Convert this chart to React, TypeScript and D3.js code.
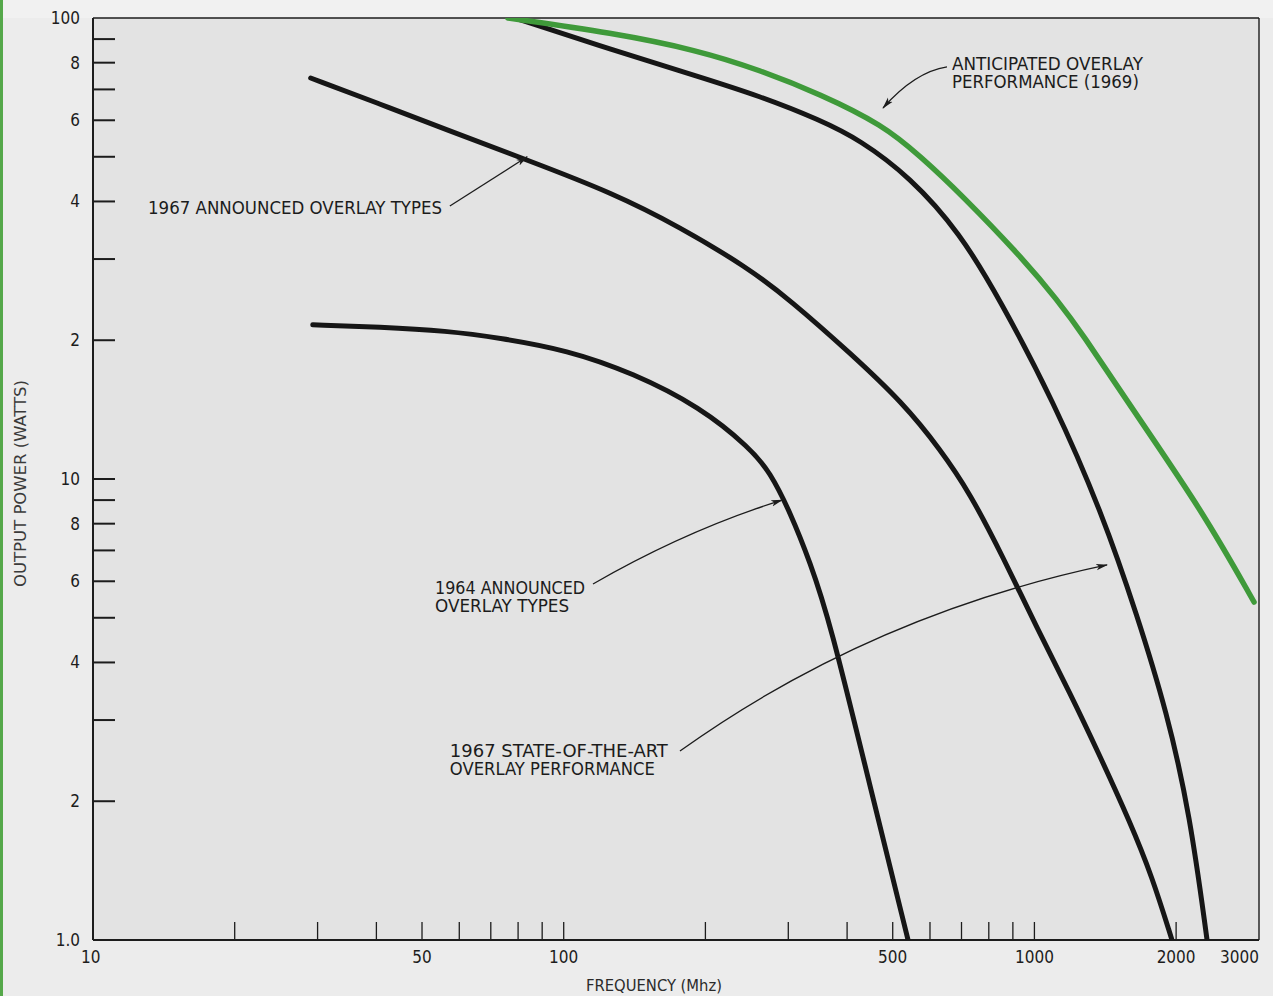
import React from "react";
import * as d3 from "d3";

// ---------- data ----------
const freq1964 = [29.3, 40.7, 56.5, 73.2, 101.6, 140.3, 194.9, 248.8, 274.4, 302.6, 333.7, 367.9, 443.1, 539];
const watts1964 = [21.6, 21.37, 20.96, 20.23, 19.05, 16.98, 14.33, 11.67, 10.35, 8.48, 6.61, 4.9, 2.246, 1.0];

const freq1967 = [29, 40.7, 56.5, 83.6, 127.3, 176.6, 245.2, 302.6, 405.8, 525.9, 630.3, 729.7, 857.8, 1012.8, 1190, 1378, 1596, 1777, 1960];
const watts1967 = [74.1, 65.1, 57.15, 49.2, 41.7, 35.2, 28.8, 24.45, 18.77, 14.62, 11.61, 9.32, 6.77, 4.75, 3.435, 2.506, 1.803, 1.376, 1.0];

const freqStateArt = [78.8, 127.3, 192, 261.2, 350.4, 426, 544, 695, 845.3, 1095, 1398, 1652, 1912, 2141, 2327];
const wattsStateArt = [100, 85.2, 74.8, 67.7, 60.1, 54.4, 45.2, 34.2, 24.45, 14.84, 8.35, 5.07, 3.125, 1.867, 1.0];

const freqAnticipated = [76.1, 127.3, 192, 261.2, 350.4, 476.9, 571.4, 695, 964.5, 1117, 1250, 1652, 2281, 2928];
const wattsAnticipated = [100, 92.8, 85.2, 77.1, 68.4, 58.6, 50.2, 41.7, 29.4, 24.45, 21.04, 13.7, 8.48, 5.41];

const xTickValues = [20, 30, 40, 50, 60, 70, 80, 90, 100, 200, 300, 400, 500, 600, 700, 800, 900, 1000, 2000];
const xLabelValues = [10, 50, 100, 500, 1000, 2000, 3000];
const xLabelTexts = ["10", "50", "100", "500", "1000", "2000", "3000"];

const yTickValues = [90, 80, 70, 60, 50, 40, 30, 20, 10, 9, 8, 7, 6, 5, 4, 3, 2];
const yLabelValues = [100, 80, 60, 40, 20, 10, 8, 6, 4, 2, 1];
const yLabelTexts = ["100", "8", "6", "4", "2", "10", "8", "6", "4", "2", "1.0"];

// annotations: text anchor in data coordinates (MHz, W)
const annoTexts = [
  { lines: ["1967 ANNOUNCED OVERLAY TYPES"], f: 13.09, w: 37.6, widths: [294], size: 18 },
  { lines: ["1964 ANNOUNCED", "OVERLAY TYPES"], f: 53.3, w: 5.63, widths: [150, 134], size: 17 },
  { lines: ["1967 STATE-OF-THE-ART", "OVERLAY PERFORMANCE"], f: 57.3, w: 2.49, widths: [218, 205], size: 17 },
  { lines: ["ANTICIPATED OVERLAY", "PERFORMANCE (1969)"], f: 668, w: 77.1, widths: [191, 187], size: 17 },
];

// arrows: [start, control, end] in data coordinates
const annoArrows: [number, number][][] = [
  [[57.3, 39.1], [70, 44.5], [83.6, 50]],
  [[115.4, 5.92], [182.4, 7.75], [291, 9.0]],
  [[176.6, 2.57], [447.5, 5.07], [1426.5, 6.51]],
  [[652, 78.3], [557.6, 76.4], [476.9, 63.8]],
];

const FONT = "'DejaVu Sans Condensed', 'Liberation Sans Narrow', 'DejaVu Sans', sans-serif";

export default function App() {
  const width = 1273;
  const height = 996;
  const left = 93, right = 1259, top = 18, bottom = 940;

  const x = d3.scaleLog().domain([10, 3000]).range([left, right]);
  const y = d3.scaleLog().domain([1, 100]).range([bottom, top]);

  const line = d3
    .line<[number, number]>()
    .x((d) => x(d[0]))
    .y((d) => y(d[1]))
    .curve(d3.curveBasis);

  const zip = (a: number[], b: number[]) => a.map((v, i) => [v, b[i]] as [number, number]);

  const blackSeries = [
    zip(freq1964, watts1964),
    zip(freq1967, watts1967),
    zip(freqStateArt, wattsStateArt),
  ];
  const greenSeries = zip(freqAnticipated, wattsAnticipated);

  const arrowPath = (pts: [number, number][]) => {
    const [p0, c, p1] = pts;
    const p = d3.path();
    p.moveTo(x(p0[0]), y(p0[1]));
    p.quadraticCurveTo(x(c[0]), y(c[1]), x(p1[0]), y(p1[1]));
    return p.toString();
  };

  const ink = "#1c1c1c";

  return (
    <svg
      width={width}
      height={height}
      style={{ position: "absolute", left: 0, top: 0, background: "#ececec" }}
      fontFamily={FONT}
    >
      <defs>
        <marker
          id="ah"
          viewBox="0 -4 12 8"
          refX={11}
          refY={0}
          markerWidth={12}
          markerHeight={8}
          markerUnits="userSpaceOnUse"
          orient="auto"
        >
          <path d="M0,-3.2 L12,0 L0,3.2 L3,0 Z" fill={ink} />
        </marker>
        <clipPath id="plotClip">
          <rect x={left} y={top} width={right - left} height={bottom - top} />
        </clipPath>
      </defs>

      <rect x={0} y={0} width={width} height={top} fill="#f1f1f1" />
      <rect x={0} y={0} width={3} height={height} fill="#55a84a" />

      {/* plot background */}
      <rect x={left} y={top} width={right - left} height={bottom - top} fill="#e3e3e3" />

      {/* y ticks */}
      {yTickValues.map((v) => (
        <line key={"yt" + v} x1={left} x2={left + 22} y1={y(v)} y2={y(v)} stroke={ink} strokeWidth={2} />
      ))}
      {/* x ticks */}
      {xTickValues.map((v) => (
        <line key={"xt" + v} x1={x(v)} x2={x(v)} y1={bottom} y2={bottom - 18} stroke={ink} strokeWidth={1.3} />
      ))}

      {/* frame */}
      <line x1={left} x2={right} y1={top} y2={top} stroke={ink} strokeWidth={1.4} />
      <line x1={right} x2={right} y1={top} y2={bottom} stroke={ink} strokeWidth={1.4} />
      <line x1={left} x2={left} y1={top} y2={bottom} stroke={ink} strokeWidth={2} />
      <line x1={left} x2={right} y1={bottom} y2={bottom} stroke={ink} strokeWidth={2} />

      {/* y labels */}
      {yLabelValues.map((v, i) => (
        <text key={"yl" + i} x={80} y={y(v) + 6} textAnchor="end" fontSize={17} fill={ink}>
          {yLabelTexts[i]}
        </text>
      ))}
      {/* x labels */}
      {xLabelValues.map((v, i) => (
        <text
          key={"xl" + i}
          x={x(v)}
          y={963}
          textAnchor={v === 3000 ? "end" : v === 10 ? "start" : "middle"}
          dx={v === 10 ? -12 : 0}
          fontSize={17}
          fill={ink}
        >
          {xLabelTexts[i]}
        </text>
      ))}

      {/* axis titles */}
      <text x={586} y={991} fontSize={15} fill="#2a2a2a" textLength={136} lengthAdjust="spacingAndGlyphs">
        FREQUENCY (Mhz)
      </text>
      <text
        transform={`translate(26, ${587}) rotate(-90)`}
        fontSize={16}
        fill="#3a3a3a"
        textLength={207}
        lengthAdjust="spacingAndGlyphs"
      >
        OUTPUT POWER (WATTS)
      </text>

      {/* curves */}
      <g clipPath="url(#plotClip)">
        {blackSeries.map((s, i) => (
          <path
            key={"s" + i}
            d={line(s) || ""}
            fill="none"
            stroke="#161616"
            strokeWidth={5}
            strokeLinecap="round"
            strokeLinejoin="round"
          />
        ))}
        <path d={line(greenSeries) || ""} fill="none" stroke="#3f9a3a" strokeWidth={5.5} strokeLinecap="round" />
      </g>

      {/* annotation arrows */}
      {annoArrows.map((a, i) => (
        <path key={"a" + i} d={arrowPath(a)} fill="none" stroke={ink} strokeWidth={1.3} markerEnd="url(#ah)" />
      ))}

      {/* annotation texts */}
      {annoTexts.map((t, i) => (
        <g key={"t" + i}>
          {t.lines.map((ln, j) => (
            <text
              key={j}
              x={x(t.f)}
              y={y(t.w) + j * 17.5}
              fontSize={t.size}
              fill={ink}
              textLength={t.widths[j]}
              lengthAdjust="spacingAndGlyphs"
            >
              {ln}
            </text>
          ))}
        </g>
      ))}
    </svg>
  );
}
